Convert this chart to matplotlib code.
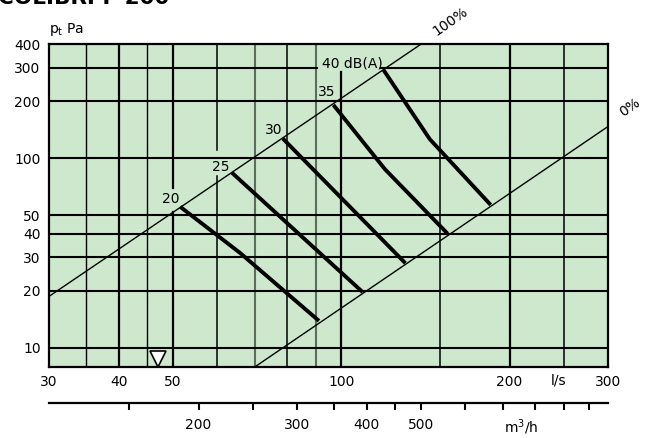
import matplotlib.pyplot as plt
from matplotlib.ticker import NullLocator

plt.rcParams['font.family'] = 'DejaVu Sans'

# axis ticks (l/s and Pa)
flow_ticks = [30, 40, 50, 100, 200, 300]
press_ticks = [10, 20, 30, 40, 50, 100, 200, 300, 400]
m3h_ticks = [150, 200, 250, 300, 350, 400, 450, 500, 600, 700, 800, 900, 1000]
m3h_labels = ['', '200', '', '300', '', '400', '', '500', '', '', '', '', '']

# 100% and 0% damper lines (l/s, Pa), end points
line100_q = [30, 139]
line100_p = [18.7, 400]
line0_q = [70, 300]
line0_p = [7.94, 147]

# sound level curves dB(A)
db_levels = [20, 25, 30, 35, 40]
db_q = [[51.5, 65.9, 91.2],
        [63.7, 109.2],
        [78.6, 130.2],
        [96.8, 119.7, 155],
        [118.9, 144, 185]]
db_p = [[55.5, 31.7, 13.9],
        [84, 19.7],
        [127, 28.0],
        [191, 87.5, 40],
        [293, 126, 56.8]]

# min flow marker
marker_q = 47
marker_p = 8.77

ymin, ymax = 7.94, 400
xmin, xmax = 30, 300
bg = '#cde8cc'
gray = '#5b6e5b'
fs = 10

fig = plt.figure(figsize=(6.51, 4.38), dpi=100)
ax = fig.add_axes([49 / 651, 71 / 438, 559 / 651, 323 / 438])
ax.set_xscale('log')
ax.set_yscale('log')
ax.set_xlim(xmin, xmax)
ax.set_ylim(ymin, ymax)
ax.set_facecolor(bg)

# vertical grid: (flow, width, colour, segments)
vgrid = [
    (35, 1.0, 'black', None),
    (40, 1.6, 'black', None),
    (45, 1.0, 'black', None),
    (50, 1.6, 'black', [(ymin, 51.8), (70, ymax)]),
    (60, 1.1, 'black', [(ymin, 81), (110, ymax)]),
    (70, 1.5, gray, None),
    (80, 1.1, 'black', None),
    (90, 1.5, gray, None),
    (100, 1.6, 'black', [(ymin, 285)]),
    (150, 1.1, 'black', None),
    (200, 1.6, 'black', None),
    (250, 1.1, 'black', None),
]
for q, lw, c, segs in vgrid:
    if segs is None:
        segs = [(ymin, ymax)]
    for a, b in segs:
        ax.plot([q, q], [a, b], color=c, lw=lw, zorder=1)

hgrid = [10, 20, 30, 40, 50, 100, 200]
for p in hgrid:
    ax.plot([xmin, xmax], [p, p], color='black', lw=1.5, zorder=1)
# 300 Pa line is broken by the 40 dB(A) label
ax.plot([xmin, 90.5], [300, 300], color='black', lw=1.5, zorder=1)
ax.plot([118, xmax], [300, 300], color='black', lw=1.5, zorder=1)

ax.plot(line100_q, line100_p, color='black', lw=1.0, zorder=2)
ax.plot(line0_q, line0_p, color='black', lw=1.0, zorder=2)

for q, p in zip(db_q, db_p):
    ax.plot(q, p, color='black', lw=2.8, zorder=3, solid_capstyle='butt')

ax.plot(marker_q, marker_p, marker='v', markersize=11, markerfacecolor='white',
        markeredgecolor='black', markeredgewidth=1.2, clip_on=False, zorder=5)

ax.text(49.6, 60.7, '20', fontsize=fs, ha='center', va='center', zorder=4)
ax.text(60.9, 90.2, '25', fontsize=fs, ha='center', va='center', zorder=4)
ax.text(75.6, 141, '30', fontsize=fs, ha='center', va='center', zorder=4)
ax.text(94, 223, '35', fontsize=fs, ha='center', va='center', zorder=4)
ax.text(104.5, 317, '40 dB(A)', fontsize=fs, ha='center', va='center', zorder=4)
ax.text(157, 524, '100%', fontsize=fs, ha='center', va='center', rotation=35)
ax.text(328, 186, '0%', fontsize=fs, ha='center', va='center', rotation=35)

# main axis ticks
ax.set_xticks(flow_ticks)
ax.set_xticklabels([str(t) for t in flow_ticks])
ax.set_yticks(press_ticks)
ax.set_yticklabels([str(t) for t in press_ticks])
ax.xaxis.set_minor_locator(NullLocator())
ax.yaxis.set_minor_locator(NullLocator())
ax.tick_params(length=0, labelsize=fs)
ax.tick_params(axis='x', pad=6)
ax.tick_params(axis='y', pad=6)
for s in ax.spines.values():
    s.set_linewidth(1.6)

ax.annotate('l/s', xy=(245, 0), xycoords=('data', 'axes fraction'),
            xytext=(0, -14 * 72 / 100), textcoords='offset points', fontsize=fs,
            ha='center', va='center')

# second flow axis in m3/h
sec = ax.secondary_xaxis(-36 / 323, functions=(lambda q: q * 3.6, lambda m: m / 3.6))
sec.set_xticks(m3h_ticks)
sec.set_xticklabels(m3h_labels)
sec.xaxis.set_minor_locator(NullLocator())
sec.tick_params(direction='out', length=5, width=1.5, labelsize=fs, pad=6)
sec.spines['bottom'].set_linewidth(1.6)
ax.annotate('m$^3$/h', xy=(210, 0), xycoords=('data', 'axes fraction'),
            xytext=(0, -60 * 72 / 100), textcoords='offset points',
            fontsize=fs, ha='center', va='center')

ax.annotate('p$_\\mathrm{t}$ Pa', xy=(0, 1), xycoords='axes fraction',
            xytext=(0, 4.5), textcoords='offset points', fontsize=fs,
            ha='left', va='bottom')

# title, cut by the top edge as in the source picture
fig.text(-2 / 651, 1 - 4.5 / 438, 'COLIBRI F 200', fontsize=15.5, fontweight='bold',
         ha='left', va='baseline')

fig.savefig('out.png', dpi=100)
